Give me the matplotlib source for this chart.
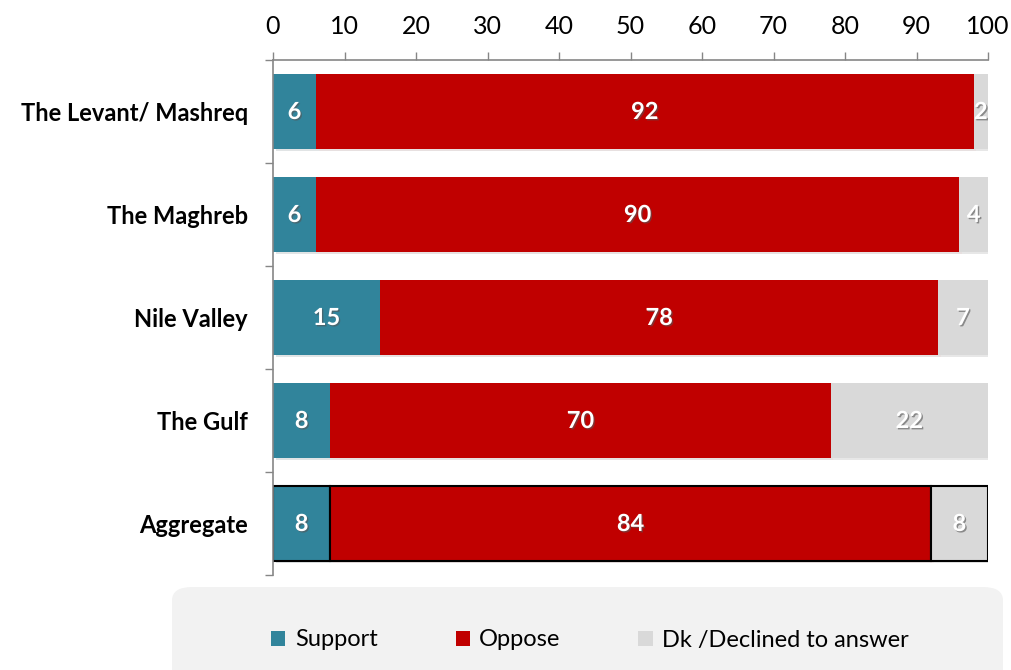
import matplotlib
matplotlib.use("Agg")
import matplotlib.pyplot as plt
import matplotlib.patheffects as pe
from matplotlib.patches import FancyBboxPatch, Patch

plt.rcParams['font.family'] = ['Lato', 'DejaVu Sans']

regions = ['The Levant/ Mashreq', 'The Maghreb', 'Nile Valley', 'The Gulf', 'Aggregate']
support = [6, 6, 15, 8, 8]
oppose = [92, 90, 78, 70, 84]
dk = [2, 4, 7, 22, 8]
series_names = ['Support', 'Oppose', 'Dk /Declined to answer']
colors = ['#31849B', '#C00000', '#D9D9D9']

fig = plt.figure(figsize=(10.11, 6.7), dpi=100)
ax = fig.add_axes([273 / 1011, 1 - 575 / 670, 715 / 1011, 515 / 670])

shadow = [pe.SimplePatchShadow(offset=(2, -2), alpha=0.12), pe.Normal()]
txt_fx = [pe.SimplePatchShadow(offset=(1, -1), shadow_rgbFace='#555555', alpha=0.6), pe.Normal()]

y = list(range(len(regions)))
left = [0] * len(regions)
for vals, col in zip([support, oppose, dk], colors):
    for i, v in enumerate(vals):
        agg = regions[i] == 'Aggregate'
        ax.barh(i, v, left=left[i], height=0.72, color=col,
                edgecolor='black' if agg else 'none', linewidth=1.5 if agg else 0,
                path_effects=shadow, zorder=2)
        ax.text(left[i] + v / 2, i, str(v), ha='center', va='center', color='white',
                fontsize=17, fontweight='bold', path_effects=txt_fx, zorder=3)
        left[i] += v

ax.set_xlim(0, 100)
ax.set_ylim(len(regions) - 0.5, -0.5)
ax.xaxis.tick_top()
ax.set_xticks(range(0, 101, 10))
ax.tick_params(axis='x', length=6, width=1, color='#868686', pad=10, labelsize=18)

ax.set_yticks(y)
ax.set_yticklabels(regions, fontsize=17, fontweight='bold')
ax.tick_params(axis='y', length=0, pad=18)
ax.set_yticks([i - 0.5 for i in range(len(regions) + 1)], minor=True)
ax.tick_params(axis='y', which='minor', length=6, width=1, color='#868686')

for s in ['right', 'bottom']:
    ax.spines[s].set_visible(False)
for s in ['left', 'top']:
    ax.spines[s].set_color('#868686')
    ax.spines[s].set_linewidth(1.2)

# legend background
bg = FancyBboxPatch((172 / 1011, -0.05), 831 / 1011, (670 - 587) / 670 + 0.05,
                    boxstyle='round,pad=0,rounding_size=0.02', transform=fig.transFigure,
                    facecolor='#F2F2F2', edgecolor='none', zorder=0)
fig.patches.append(bg)

handles = [Patch(facecolor=c, edgecolor='none') for c in colors]
fig.legend(handles, series_names, loc='center', bbox_to_anchor=(590 / 1011, 1 - 640 / 670),
           ncol=3, frameon=False, fontsize=17, handlelength=0.6, handleheight=0.6,
           handletextpad=0.4, columnspacing=3.3)

fig.savefig('out.png', dpi=100)
